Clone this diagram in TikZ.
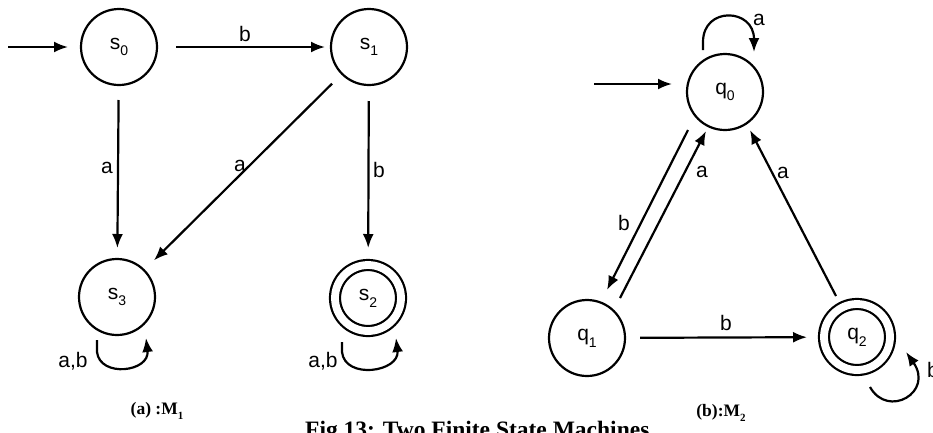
\documentclass[tikz,border=0pt]{standalone}
\usepackage{fontspec}
\setmainfont{Liberation Sans}
\newfontfamily\capfont{Liberation Serif}
\usetikzlibrary{arrows.meta}

% state name with a lowered index
\newcommand\stname[2]{#1\raisebox{-0.32em}{\fontsize{14}{14}\selectfont #2}}
% caption symbol with a lowered index
\newcommand\capsub[2]{#1\raisebox{-0.3em}{\fontsize{11}{11}\selectfont #2}}

\tikzset{
  state/.style={circle, draw, line width=2.2pt, minimum size=76pt, inner sep=0pt,
                outer sep=0pt, font=\fontsize{21}{21}\selectfont},
  accept/.style={circle, draw, line width=2.2pt, double, double distance=7.8pt,
                minimum size=66pt, inner sep=0pt, outer sep=0pt,
                font=\fontsize{21}{21}\selectfont},
  edge/.style={line width=2.2pt, -{Latex[length=14pt,width=11pt]}},
  lbl/.style={font=\fontsize{21}{21}\selectfont, inner sep=0pt},
  caption/.style={font=\capfont\bfseries\fontsize{17.5}{17.5}\selectfont, inner sep=0pt},
}

\begin{document}
\begin{tikzpicture}[x=1pt, y=-1pt]
\useasboundingbox (0,0) rectangle (933,432);
\clip (0,0) rectangle (933,432);

% ---------- machine M1 ----------
\node[state]  (s0) at (119,47)  {\stname{s}{0}};
\node[state]  (s1) at (369,47)  {\stname{s}{1}};
\node[state]  (s3) at (117,297) {\stname{s}{3}};
\node[accept] (s2) at (368,298) {\stname{s}{2}};
\coordinate (in1) at (8,47);

\draw[edge, shorten >=13pt] (in1) -- (s0);
\draw[edge, shorten <=19pt, shorten >=6pt] (s0) -- (s1);
\draw[edge, shorten <=15pt, shorten >=11pt] (s0) -- (s3);
\draw[edge, shorten <=14pt, shorten >=14pt] (s1) -- (s3);
\draw[edge, shorten <=16pt, shorten >=17pt] (s1) -- (s2);

\draw[edge] ([shift={(-20,43)}]s3.center) -- ++(0,12)
  .. controls +(3,26) and +(4,34) .. ([shift={(29,41)}]s3.center);
\draw[edge] ([shift={(-26,44)}]s2.center) -- ++(0,10)
  .. controls +(3,28) and +(4,34) .. ([shift={(28,40)}]s2.center);

\node[lbl] at (245,34)  {b};
\node[lbl] at (107,168) {a};
\node[lbl] at (240,166) {a};
\node[lbl] at (379,170) {b};
\node[lbl] at (73,361)  {a,b};
\node[lbl] at (323,361) {a,b};

\node[caption] at (157,411) {(a) :\capsub{M}{1}};

% ---------- machine M2 ----------
\node[state]  (q0) at (725,92)  {\stname{q}{0}};
\node[state]  (q1) at (587,338) {\stname{q}{1}};
\node[accept] (q2) at (857,337) {\stname{q}{2}};
\coordinate (in2) at (594,84);

\draw[edge, shorten >=15pt] (in2) -- (q0.west |- in2);
\draw[edge] ([shift={(-37,38)}]q0.center) -- ([shift={(20,-48)}]q1.center);
\draw[edge] ([shift={(33,-40)}]q1.center) -- ([shift={(-19,39)}]q0.center);
\draw[edge] ([shift={(-21,-41)}]q2.center) -- ([shift={(25,38)}]q0.center);
\draw[edge, shorten <=15pt, shorten >=17pt] (q1) -- (q2);

\draw[edge] ([shift={(-22,-42)}]q0.center) -- ++(0,-8)
  .. controls +(0,-36) and +(0,-44) .. ([shift={(29,-40)}]q0.center);
\draw[edge] ([shift={(13,50)}]q2.center)
  .. controls +(18,32) and +(28,40) .. ([shift={(49,15)}]q2.center);

\node[lbl] at (759,20)  {a};
\node[lbl] at (624,223) {b};
\node[lbl] at (702,172) {a};
\node[lbl] at (783,173) {a};
\node[lbl] at (726,323) {b};
\node[lbl, anchor=west] at (927,370) {b};

\node[caption] at (721,413) {(b):\capsub{M}{2}};

% ---------- figure title ----------
\node[caption, font=\capfont\bfseries\fontsize{23.5}{23.5}\selectfont, anchor=base west]
  at (305,437) {Fig 13: Two Finite State Machines};
\end{tikzpicture}
\end{document}
